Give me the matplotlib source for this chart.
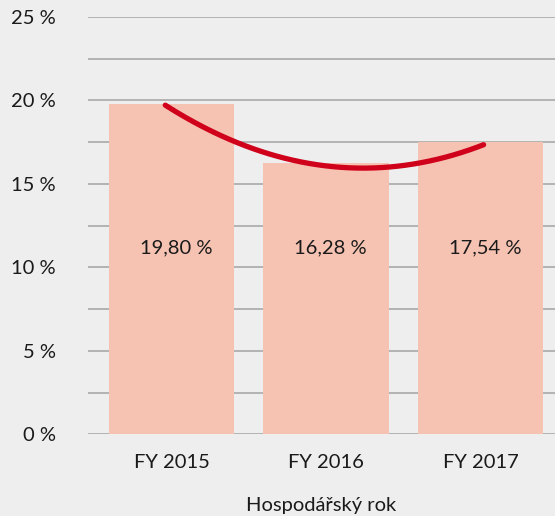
import numpy as np
import matplotlib
matplotlib.use("Agg")
import matplotlib.pyplot as plt

years = ["FY 2015", "FY 2016", "FY 2017"]
values = [19.80, 16.28, 17.54]
labels = ["19,80 %", "16,28 %", "17,54 %"]
yticks = [0, 5, 10, 15, 20, 25]
ytick_labels = ["0 %", "5 %", "10 %", "15 %", "20 %", "25 %"]

# trend curve: start, lowest point, end
trend_x = [-0.04, 1.22, 2.02]
trend_y = [19.72, 15.95, 17.35]

BG = "#eeeeee"
BAR = "#f6c3b3"
LINE = "#d0021b"
GRID = "#a9a9a9"

plt.rcParams["font.family"] = ["Lato", "DejaVu Sans"]

fig = plt.figure(figsize=(5.55, 5.16), dpi=100, facecolor=BG)
ax = fig.add_axes([88 / 555, 1 - 434.4 / 516, 1 - 88 / 555, (434.4 - 17) / 516])
ax.set_facecolor(BG)

x = np.arange(len(years))
ax.bar(x, values, width=0.81, color=BAR, zorder=2)

coef = np.polyfit(trend_x, trend_y, 2)
xs = np.linspace(trend_x[0], trend_x[-1], 200)
ax.plot(xs, np.polyval(coef, xs), color=LINE, lw=3.8, solid_capstyle="round",
        zorder=4)

for xi, lab in zip(x, labels):
    ax.text(xi + 0.03, 11.15, lab, ha="center", va="center", fontsize=14.5,
            color="#1a1a1a", zorder=5)

for g in np.arange(0, 25.01, 2.5):
    ax.axhline(g, color=GRID, lw=1.2, zorder=1)

ax.set_xlim(-0.54, 2.482)
ax.set_ylim(0, 25)
ax.set_yticks(yticks)
ax.set_yticklabels(ytick_labels)
ax.set_xticks(x)
ax.set_xticklabels(years)
ax.tick_params(axis="both", length=0, labelsize=14.5, colors="#1a1a1a")
ax.tick_params(axis="y", pad=23)
ax.tick_params(axis="x", pad=14)
ax.set_xlabel("Hospodářský rok", fontsize=14.5, color="#1a1a1a", labelpad=19)
for s in ax.spines.values():
    s.set_visible(False)

fig.savefig("out.png", dpi=100, facecolor=BG)
